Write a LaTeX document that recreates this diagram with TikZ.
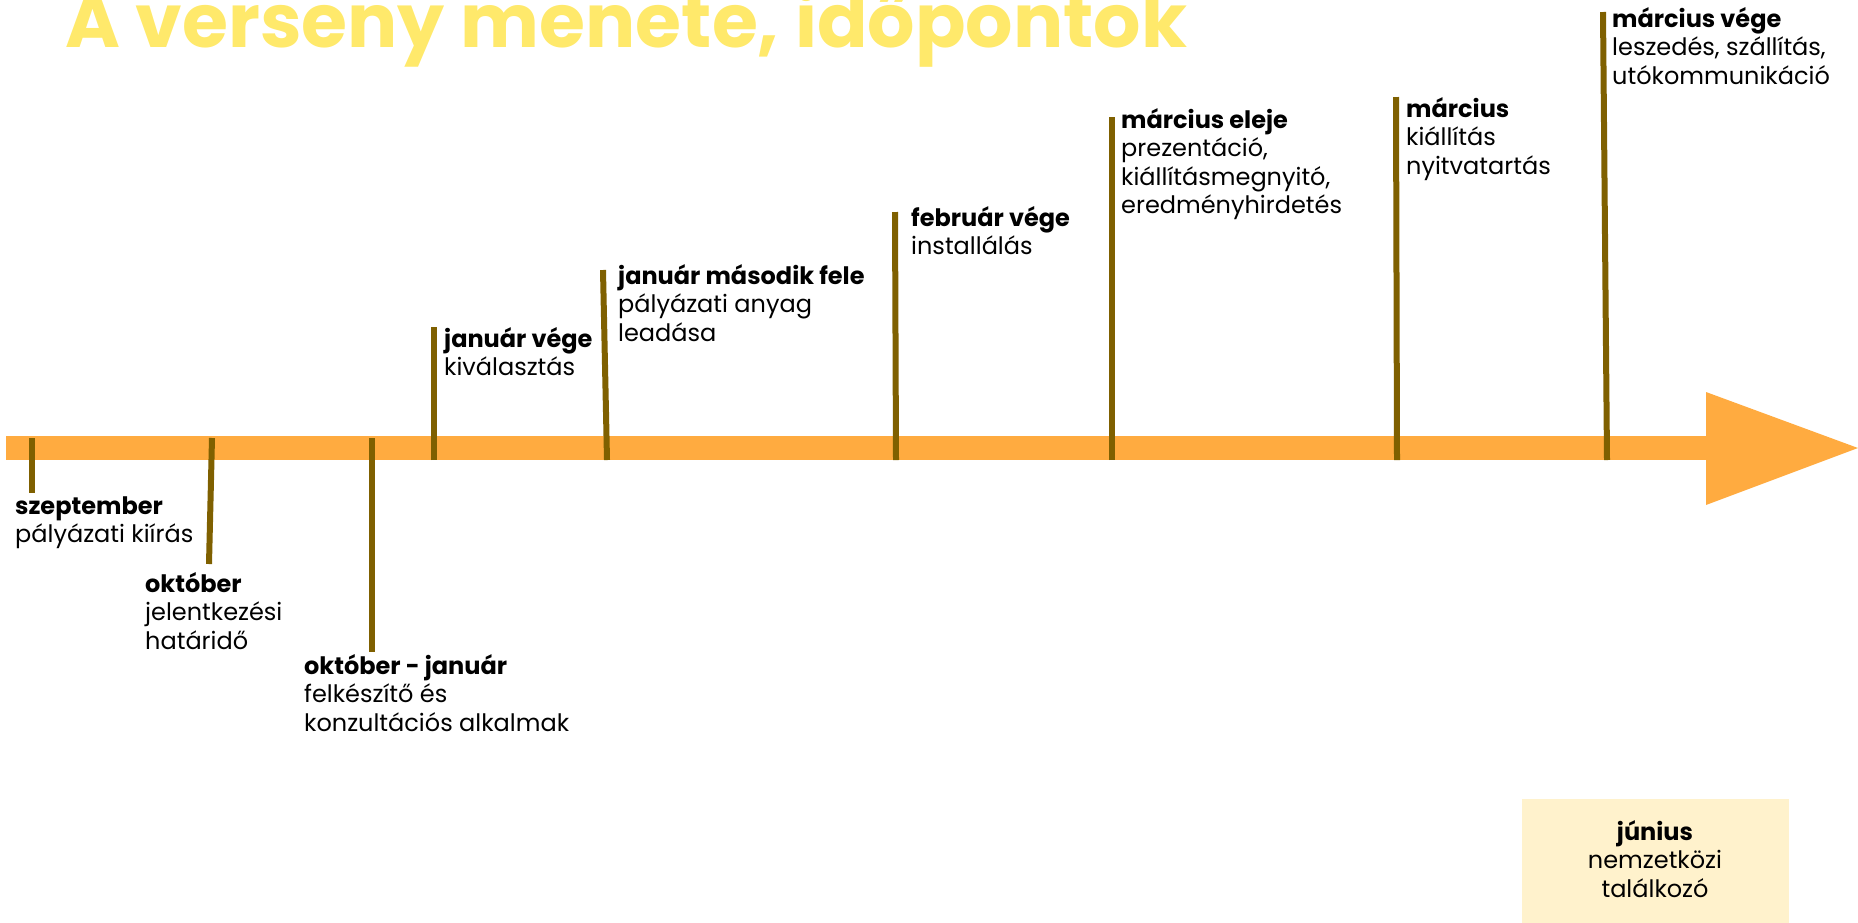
\documentclass[tikz,border=0pt]{standalone}
\usepackage{fontspec}
\setmainfont{Poppins}
\definecolor{barc}{RGB}{255,171,64}
\definecolor{tickc}{RGB}{127,96,0}
\definecolor{titlec}{RGB}{255,233,107}
\definecolor{boxc}{RGB}{255,242,204}
\begin{document}
\begin{tikzpicture}[x=1pt,y=-1pt,
  tk/.style={line width=6pt, draw=tickc},
  lbl/.style={anchor=base west, inner sep=0pt, align=left, font=\fontsize{24}{28.5}\selectfont},
  clbl/.style={anchor=base, inner sep=0pt, align=center, font=\fontsize{24}{28.5}\selectfont}]
\useasboundingbox (0,0) rectangle (1858,922);
% title
\node[anchor=base west, inner sep=0pt, text=titlec, font=\fontsize{74.5}{74.5}\selectfont\bfseries] (title) at (65,47) {A verseny menete, időpontok};
% axis
\fill[barc] (6,436) rectangle (1706,460);
\fill[barc] (1706,392) -- (1858,448) -- (1706,505) -- cycle;
% tick coordinates
\coordinate (a1) at (32,438); \coordinate (b1) at (32,493);
\coordinate (a2) at (212,438); \coordinate (b2) at (209,564);
\coordinate (a3) at (372,438); \coordinate (b3) at (372,652);
\coordinate (a4) at (434,460); \coordinate (b4) at (434,327);
\coordinate (a5) at (607,460); \coordinate (b5) at (603,270);
\coordinate (a6) at (896,460); \coordinate (b6) at (895,212);
\coordinate (a7) at (1112,460); \coordinate (b7) at (1112,117);
\coordinate (a8) at (1397,460); \coordinate (b8) at (1396,97);
\coordinate (a9) at (1607,460); \coordinate (b9) at (1603,12);
\foreach \i in {1,...,9} {\draw[tk] (a\i) -- (b\i);}
% labels (anchored at the baseline of the last line)
\node[lbl] (l1) at (15,542.5) {\textbf{szeptember}\\pályázati kiírás};
\node[lbl] (l2) at (145,649) {\textbf{október}\\jelentkezési\\határidő};
\node[lbl] (l3) at (304,731) {\textbf{október - január}\\felkészítő és\\konzultációs alkalmak};
\node[lbl] (l4) at (444,375.5) {\textbf{január vége}\\kiválasztás};
\node[lbl] (l5) at (618,341) {\textbf{január második fele}\\pályázati anyag\\leadása};
\node[lbl] (l6) at (911,254.5) {\textbf{február vége}\\installálás};
\node[lbl] (l7) at (1121,213.5) {\textbf{március eleje}\\prezentáció,\\kiállításmegnyitó,\\eredményhirdetés};
\node[lbl] (l8) at (1406,174) {\textbf{március}\\kiállítás\\nyitvatartás};
\node[lbl] (l9) at (1612,84) {\textbf{március vége}\\leszedés, szállítás,\\utókommunikáció};
% box
\node[fill=boxc, anchor=north west, minimum width=267pt, minimum height=140pt, inner sep=0pt] (box) at (1522,799) {};
\node[clbl] (jun) at (1655,897) {\textbf{június}\\nemzetközi\\találkozó};
\end{tikzpicture}
\end{document}
